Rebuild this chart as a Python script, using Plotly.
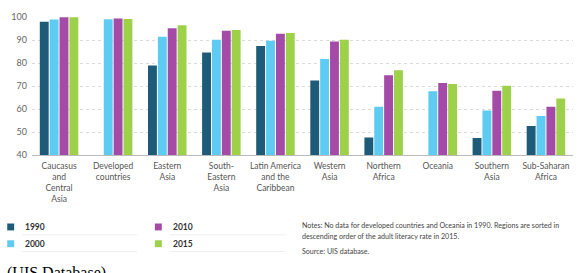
import plotly.graph_objects as go

categories = [
    "Caucasus<br>and<br>Central<br>Asia",
    "Developed<br>countries",
    "Eastern<br>Asia",
    "South-<br>Eastern<br>Asia",
    "Latin America<br>and the<br>Caribbean",
    "Western<br>Asia",
    "Northern<br>Africa",
    "Oceania",
    "Southern<br>Asia",
    "Sub-Saharan<br>Africa",
]
years = ["1990", "2000", "2010", "2015"]
v1990 = [97.9, None, 78.9, 84.6, 87.4, 72.4, 47.6, None, 47.4, 52.6]
v2000 = [98.9, 99.0, 91.4, 90.1, 89.7, 81.7, 61.0, 67.7, 59.3, 57.0]
v2010 = [99.9, 99.3, 95.1, 94.0, 92.7, 89.3, 74.7, 71.3, 67.9, 61.0]
v2015 = [99.9, 99.1, 96.4, 94.3, 93.0, 90.1, 76.9, 70.9, 70.1, 64.6]
series = [v1990, v2000, v2010, v2015]
colors = ["#1d5b79", "#5ecbf3", "#a44ba8", "#9dd14a"]
y_ticks = [40, 50, 60, 70, 80, 90, 100]

W, H = 584, 273
L, R, T, B = 27, 11, 15, 118
PW, PH = W - L - R, H - T - B


def px(x):
    return (x - L) / PW


def py(y):
    return (H - B - y) / PH


fig = go.Figure()
for yr, vals, col in zip(years, series, colors):
    fig.add_trace(go.Bar(
        x=categories, y=vals, name=yr, marker_color=col,
        marker_line_width=0, showlegend=False,
    ))

fig.update_layout(
    width=W, height=H,
    margin=dict(l=L, r=R, t=T, b=B, pad=0),
    barmode="group", bargap=0.27, bargroupgap=0.1,
    plot_bgcolor="white", paper_bgcolor="white",
    font=dict(family="Lato, Open Sans, sans-serif", size=9, color="#555555"),
)
fig.update_yaxes(
    range=[40, 100], tickvals=y_ticks, showgrid=True,
    gridcolor="#dadada", griddash="dot", gridwidth=1,
    zeroline=False, showline=False, ticks="", ticklabelstandoff=4,
    tickfont=dict(size=9, color="#666666"),
)
fig.update_xaxes(
    showline=True, linecolor="#bbbbbb", linewidth=1, ticks="",
    ticklabelstandoff=3,
    tickfont=dict(size=8.5, color="#555555"), tickangle=0,
)

# custom legend (2 columns)
leg_pos = [(2, 228), (2, 245), (151, 228), (151, 245)]
shapes = []
annotations = []
for yr, col, (lx, ly) in zip(years, colors, leg_pos):
    shapes.append(dict(type="rect", xref="paper", yref="paper",
                       x0=px(lx), x1=px(lx + 7), y0=py(ly - 3.5), y1=py(ly + 3.5),
                       fillcolor=col, line_width=0))
    shapes.append(dict(type="line", xref="paper", yref="paper",
                       x0=px(lx + 15), x1=px(lx + 131), y0=py(ly + 8), y1=py(ly + 8),
                       line=dict(color="#eeeeee", width=1)))
    annotations.append(dict(text="<b>" + yr + "</b>", xref="paper", yref="paper",
                            x=px(lx + 16), y=py(ly), xanchor="left", yanchor="middle",
                            showarrow=False, font=dict(size=8.5, color="#333333")))

notes = [
    ("Notes: No data for developed countries and Oceania in 1990. Regions are sorted in", 227),
    ("descending order of the adult literacy rate in 2015.", 238),
    ("Source: UIS database.", 253),
]
for txt, ny in notes:
    annotations.append(dict(text=txt, xref="paper", yref="paper",
                            x=px(297), y=py(ny), xanchor="left", yanchor="middle",
                            showarrow=False, font=dict(size=7.1, color="#444444")))

annotations.append(dict(text="(UIS Database)", xref="paper", yref="paper",
                        x=px(0), y=py(264), xanchor="left", yanchor="top",
                        showarrow=False,
                        font=dict(family="Liberation Serif, Times New Roman, serif",
                                  size=16, color="#000000")))

fig.update_layout(shapes=shapes, annotations=annotations)
fig.write_html("out.html")
